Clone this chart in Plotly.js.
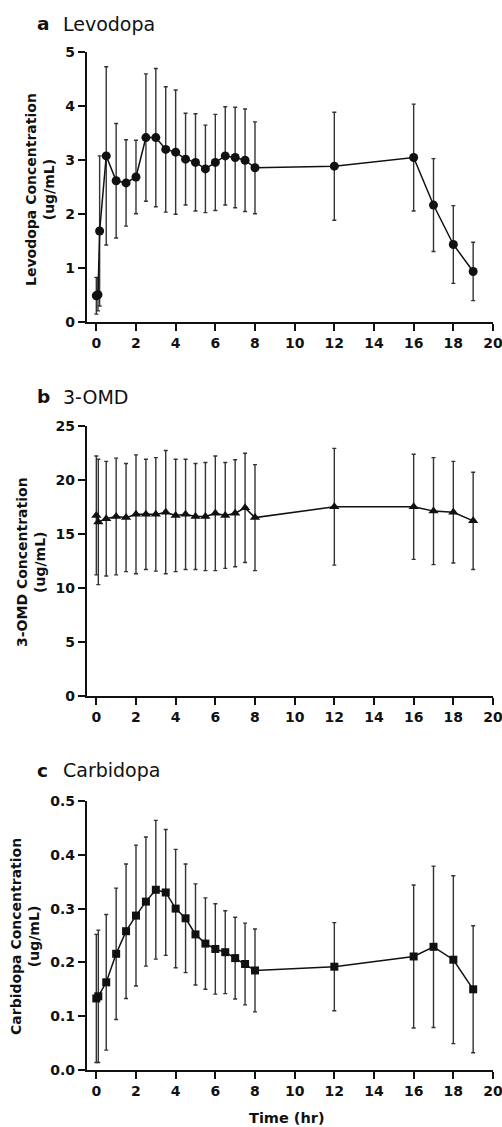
<!DOCTYPE html>
<html>
<head>
<meta charset="utf-8">
<script src="https://cdn.plot.ly/plotly-3.0.1.min.js"></script>
<style>html,body{margin:0;padding:0;background:#fff;}</style>
</head>
<body>
<div id="chart" style="width:502px;height:1127px;"></div>
<script>
// ---- Data ----
const levodopaTime = [0, 0.083, 0.167, 0.5, 1, 1.5, 2, 2.5, 3, 3.5, 4, 4.5, 5, 5.5, 6, 6.5, 7, 7.5, 8, 12, 16, 17, 18, 19];
const levodopaMean = [0.48, 0.50, 1.68, 3.07, 2.61, 2.57, 2.68, 3.41, 3.41, 3.19, 3.14, 3.01, 2.95, 2.83, 2.95, 3.07, 3.04, 2.99, 2.85, 2.88, 3.04, 2.16, 1.43, 0.93];
const levodopaSD   = [0.34, 0.30, 1.39, 1.65, 1.06, 0.80, 0.68, 1.18, 1.28, 1.16, 1.15, 0.85, 0.90, 0.81, 0.89, 0.91, 0.93, 0.95, 0.85, 1.00, 0.99, 0.86, 0.72, 0.54];

const omdTime = [0, 0.1, 0.5, 1, 1.5, 2, 2.5, 3, 3.5, 4, 4.5, 5, 5.5, 6, 6.5, 7, 7.5, 8, 12, 16, 17, 18, 19];
const omdMean = [16.7, 16.1, 16.4, 16.6, 16.5, 16.8, 16.8, 16.8, 17.0, 16.7, 16.8, 16.6, 16.6, 16.9, 16.7, 16.9, 17.4, 16.5, 17.5, 17.5, 17.1, 17.0, 16.2];
const omdSD   = [5.5, 5.8, 5.3, 5.4, 5.0, 5.5, 5.1, 5.25, 5.7, 5.2, 5.1, 4.9, 5.0, 5.3, 4.9, 4.95, 5.05, 4.9, 5.4, 4.86, 4.95, 4.7, 4.5];

const carbidopaTime = [0, 0.1, 0.5, 1, 1.5, 2, 2.5, 3, 3.5, 4, 4.5, 5, 5.5, 6, 6.5, 7, 7.5, 8, 12, 16, 17, 18, 19];
const carbidopaMean = [0.133, 0.137, 0.163, 0.216, 0.258, 0.287, 0.313, 0.335, 0.330, 0.300, 0.282, 0.252, 0.235, 0.225, 0.219, 0.208, 0.197, 0.185, 0.192, 0.211, 0.229, 0.205, 0.150];
const carbidopaSD   = [0.119, 0.123, 0.126, 0.122, 0.125, 0.131, 0.120, 0.129, 0.117, 0.110, 0.101, 0.094, 0.085, 0.084, 0.077, 0.076, 0.076, 0.077, 0.082, 0.133, 0.150, 0.156, 0.118];

const panelLetters = ["a", "b", "c"];
const panelNames = ["Levodopa", "3-OMD", "Carbidopa"];
const yTitles = ["Levodopa Concentration", "3-OMD Concentration", "Carbidopa Concentration"];
const yUnit = "(ug/mL)";
const xTitle = "Time (hr)";

// ---- Geometry ----
const W = 502, H = 1127;
const M = {l: 87, r: 9, t: 50, b: 57};
const PW = W - M.l - M.r, PH = H - M.t - M.b;
const px = v => (v - M.l) / PW;
const py = v => (H - M.b - v) / PH;

const FONT = "DejaVu Sans";
const INK = "#111111";

function trace(t, m, sd, sym, size, xa, ya) {
  return {
    x: t, y: m, xaxis: xa, yaxis: ya, type: "scatter", mode: "lines+markers",
    line: {color: INK, width: 1.5},
    marker: {symbol: sym, size: size, color: INK},
    error_y: {type: "data", array: sd, visible: true, color: "#333333", thickness: 1.4, width: 2},
    cliponaxis: false, showlegend: false
  };
}

const data = [
  trace(levodopaTime, levodopaMean, levodopaSD, "circle", 9, "x", "y"),
  trace(omdTime, omdMean, omdSD, "triangle-up", 9, "x2", "y2"),
  trace(carbidopaTime, carbidopaMean, carbidopaSD, "square", 8, "x3", "y3")
];

const tickFont = {family: FONT, size: 14, weight: "bold", color: INK};
function xax(anchor) {
  return {
    anchor: anchor, domain: [0, 1], range: [-0.47, 20], tickmode: "linear", tick0: 0, dtick: 2,
    showline: true, linecolor: INK, linewidth: 2.2, ticks: "outside", ticklen: 7, tickwidth: 2,
    tickcolor: INK, showgrid: false, zeroline: false, tickfont: tickFont, fixedrange: true,
    ticklabeloverflow: "allow"
  };
}
function yax(anchor, dom, range, dtick, fmt) {
  return {
    anchor: anchor, domain: dom, range: range, tickmode: "linear", tick0: 0, dtick: dtick,
    tickformat: fmt, showline: true, linecolor: INK, linewidth: 2.2, ticks: "outside",
    ticklen: 7, tickwidth: 2, tickcolor: INK, showgrid: false, zeroline: false,
    tickfont: tickFont, fixedrange: true, ticklabeloverflow: "allow"
  };
}

const layout = {
  width: W, height: H, margin: M, paper_bgcolor: "#fff", plot_bgcolor: "#fff",
  showlegend: false,
  xaxis: xax("y"), xaxis2: xax("y2"), xaxis3: xax("y3"),
  yaxis: yax("x", [py(321.7), py(51.7)], [0, 5], 1, ""),
  yaxis2: yax("x2", [py(696), py(425.7)], [0, 25], 5, ""),
  yaxis3: yax("x3", [py(1070), py(801)], [0, 0.5], 0.1, ".1f"),
  annotations: []
};

const titleBase = [23.5, 396.5, 770.5];
const yTitleX = [40, 31, 25];
const yTitleY = [190, 562, 937];
for (let i = 0; i < 3; i++) {
  layout.annotations.push({
    xref: "paper", yref: "paper", x: px(35), y: py(titleBase[i]), xanchor: "left", yanchor: "middle",
    text: "<b>" + panelLetters[i] + "</b>", showarrow: false,
    font: {family: FONT, size: 18.5, color: INK}
  });
  layout.annotations.push({
    xref: "paper", yref: "paper", x: px(61), y: py(titleBase[i]), xanchor: "left", yanchor: "middle",
    text: panelNames[i], showarrow: false,
    font: {family: FONT, size: 19, color: INK}
  });
  layout.annotations.push({
    xref: "paper", yref: "paper", x: px(yTitleX[i]), y: py(yTitleY[i]), xanchor: "center", yanchor: "middle",
    text: "<b>" + yTitles[i] + "<br>" + yUnit + "</b>", textangle: -90, showarrow: false,
    font: {family: FONT, size: 14, color: INK}
  });
}
layout.annotations.push({
  xref: "paper", yref: "paper", x: px(287), y: py(1118), xanchor: "center", yanchor: "middle",
  text: "<b>" + xTitle + "</b>", showarrow: false, font: {family: FONT, size: 14.5, color: INK}
});

Plotly.newPlot("chart", data, layout, {staticPlot: true, displayModeBar: false});
</script>
</body>
</html>
